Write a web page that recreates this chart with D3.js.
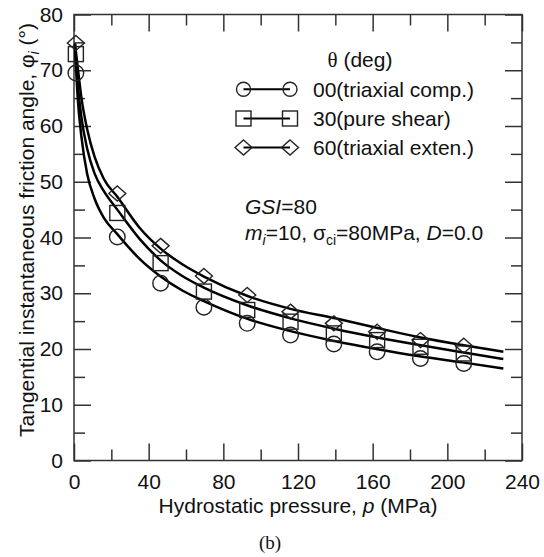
<!DOCTYPE html>
<html>
<head>
<meta charset="utf-8">
<script src="https://cdn.jsdelivr.net/npm/d3@7"></script>
<style>
  body { margin: 0; background: #fff; }
  svg text { font-family: "Liberation Sans", Arial, sans-serif; fill: #111; }
</style>
</head>
<body>
<div id="chart"></div>
<script>
// curve samples (p in MPa, phi in deg)
const curveP = [0.5, 2, 4, 7, 11, 16, 23.2, 35, 46.4, 58, 69.6, 93, 116, 140, 162, 185, 208, 230];
const curve00 = [74.5, 65, 58, 51.5, 47, 43.5, 40.6, 36.2, 33.0, 30.5, 28.6, 25.4, 23.2, 21.4, 20.0, 18.7, 17.6, 16.5];
const curve30 = [74.7, 67.5, 61.5, 56, 51.5, 48.3, 45.0, 39.8, 35.9, 33.1, 31.0, 27.8, 25.5, 23.6, 22.1, 20.7, 19.4, 18.2];
const curve60 = [74.8, 70.5, 65, 59.5, 54.5, 50.5, 47.3, 41.8, 38.0, 35.2, 33.0, 29.5, 27.2, 25.5, 23.8, 22.1, 20.7, 19.5];

// marker points
const markerP = [1, 23.2, 46.4, 69.6, 92.8, 116, 139.2, 162.4, 185.6, 208.8];
const marker00 = [69.5, 40.1, 31.8, 27.5, 24.6, 22.5, 20.9, 19.5, 18.3, 17.4];
const marker30 = [72.9, 44.4, 35.4, 30.3, 27.0, 24.9, 22.8, 21.6, 20.4, 19.2];
const marker60 = [74.9, 47.9, 38.5, 33.1, 29.7, 26.7, 24.6, 23.1, 21.6, 20.6];

const seriesNames = ['00(triaxial comp.)', '30(pure shear)', '60(triaxial exten.)'];
const seriesShapes = ['circle', 'square', 'diamond'];

const xTicks = [0, 40, 80, 120, 160, 200, 240];
const xMinor = [20, 60, 100, 140, 180, 220];
const yTicks = [0, 10, 20, 30, 40, 50, 60, 70, 80];
const yMinor = [5, 15, 25, 35, 45, 55, 65, 75];

const W = 544, H = 557;
const x = d3.scaleLinear().domain([0, 240]).range([74, 522]);
const y = d3.scaleLinear().domain([0, 80]).range([460.5, 14.5]);

const svg = d3.select('#chart').append('svg')
  .attr('width', W)
  .attr('height', H);

const axisColor = '#333';
const fs = 21;

// ticks (inward on all four sides)
function tickAxis(axis, tx, ty, withLabels) {
  const g = svg.append('g')
    .attr('transform', 'translate(' + tx + ',' + ty + ')')
    .call(axis);
  g.select('.domain').remove();
  g.selectAll('line').attr('stroke', axisColor).attr('stroke-width', 1.5);
  g.selectAll('text').style('font-size', fs + 'px').attr('fill', '#111');
  if (!withLabels) g.selectAll('text').remove();
  return g;
}

tickAxis(d3.axisBottom(x).tickValues(xTicks).tickSize(-17).tickPadding(14).tickFormat(d3.format('d')), 0, y(0), true);
tickAxis(d3.axisBottom(x).tickValues(xMinor).tickSize(-11), 0, y(0), false);
tickAxis(d3.axisTop(x).tickValues(xTicks).tickSize(-17), 0, y(80), false);
tickAxis(d3.axisTop(x).tickValues(xMinor).tickSize(-11), 0, y(80), false);
tickAxis(d3.axisLeft(y).tickValues(yTicks).tickSize(-17).tickPadding(11).tickFormat(d3.format('d')), x(0), 0, true);
tickAxis(d3.axisLeft(y).tickValues(yMinor).tickSize(-11), x(0), 0, false);
tickAxis(d3.axisRight(y).tickValues(yTicks).tickSize(-17), x(240), 0, false);
tickAxis(d3.axisRight(y).tickValues(yMinor).tickSize(-11), x(240), 0, false);

// frame
svg.append('rect')
  .attr('x', x(0)).attr('y', y(80))
  .attr('width', x(240) - x(0)).attr('height', y(0) - y(80))
  .attr('fill', 'none').attr('stroke', axisColor).attr('stroke-width', 1.5);

// curves
const line = d3.line()
  .x(function (d) { return x(d[0]); })
  .y(function (d) { return y(d[1]); })
  .curve(d3.curveMonotoneX);

[curve00, curve30, curve60].forEach(function (vals) {
  svg.append('path')
    .datum(curveP.map(function (p, i) { return [p, vals[i]]; }))
    .attr('d', line)
    .attr('fill', 'none')
    .attr('stroke', '#000')
    .attr('stroke-width', 2.5);
});

// marker shapes
function drawMarker(g, shape, cx, cy) {
  if (shape === 'circle') {
    return g.append('circle').attr('cx', cx).attr('cy', cy).attr('r', 7.8);
  } else if (shape === 'square') {
    return g.append('rect').attr('x', cx - 7.5).attr('y', cy - 7.5).attr('width', 15).attr('height', 15);
  }
  const dx = 8.5, dy = 7.5;
  return g.append('path')
    .attr('d', 'M' + cx + ',' + (cy - dy) + 'L' + (cx + dx) + ',' + cy + 'L' + cx + ',' + (cy + dy) + 'L' + (cx - dx) + ',' + cy + 'Z');
}

const markerG = svg.append('g')
  .attr('fill', 'none')
  .attr('stroke', '#222')
  .attr('stroke-width', 1.4);

[marker00, marker30, marker60].forEach(function (vals, s) {
  markerP.forEach(function (p, i) {
    drawMarker(markerG, seriesShapes[s], x(p), y(vals[i]));
  });
});

// legend
const legTitle = svg.append('text')
  .attr('x', 360).attr('y', 66.5)
  .attr('text-anchor', 'middle')
  .style('font-size', fs + 'px');
legTitle.append('tspan').style('font-family', '"Liberation Serif", serif').text('θ');
legTitle.append('tspan').text(' (deg)');

const legendRows = [89.3, 118.5, 147.5];
seriesNames.forEach(function (name, i) {
  const ly = legendRows[i];
  svg.append('line')
    .attr('x1', 243.5).attr('x2', 290)
    .attr('y1', ly).attr('y2', ly)
    .attr('stroke', '#000').attr('stroke-width', 2);
  const lg = svg.append('g').attr('fill', 'none').attr('stroke', '#222').attr('stroke-width', 1.4);
  const m1 = drawMarker(lg, seriesShapes[i], 243.5, ly);
  const m2 = drawMarker(lg, seriesShapes[i], 290, ly);
  if (seriesShapes[i] === 'circle') { m1.attr('r', 7); m2.attr('r', 7); }
  svg.append('text')
    .attr('x', 313).attr('y', ly + 7.3)
    .style('font-size', fs + 'px')
    .text(name);
});

// annotation
const gsi = svg.append('text')
  .attr('x', 245).attr('y', 213.5)
  .style('font-size', fs + 'px');
gsi.append('tspan').style('font-style', 'italic').text('GSI');
gsi.append('tspan').text('=80');

const params = svg.append('text')
  .attr('x', 245).attr('y', 239.5)
  .style('font-size', fs + 'px');
params.append('tspan').style('font-style', 'italic').text('m');
params.append('tspan').style('font-style', 'italic').style('font-size', '14px').attr('dy', 5).text('i');
params.append('tspan').attr('dy', -5).text('=10, σ');
params.append('tspan').style('font-size', '14px').attr('dy', 5).text('ci');
params.append('tspan').attr('dy', -5).text('=80MPa, ');
params.append('tspan').style('font-style', 'italic').text('D');
params.append('tspan').text('=0.0');

// axis titles
const xTitle = svg.append('text')
  .attr('x', 298).attr('y', 512.5)
  .attr('text-anchor', 'middle')
  .style('font-size', fs + 'px');
xTitle.append('tspan').text('Hydrostatic pressure, ');
xTitle.append('tspan').style('font-style', 'italic').text('p');
xTitle.append('tspan').text(' (MPa)');

const yTitle = svg.append('text')
  .attr('transform', 'translate(34,230) rotate(-90)')
  .attr('text-anchor', 'middle')
  .style('font-size', fs + 'px');
yTitle.append('tspan').text('Tangential instantaneous friction angle, φ');
yTitle.append('tspan').style('font-style', 'italic').style('font-size', '14px').attr('dy', 5).text('i');
yTitle.append('tspan').attr('dy', -5).text(' (°)');

svg.append('text')
  .attr('x', 270).attr('y', 549)
  .attr('text-anchor', 'middle')
  .style('font-family', '"Liberation Serif", "Times New Roman", serif')
  .style('font-size', '19px')
  .text('(b)');
</script>
</body>
</html>
